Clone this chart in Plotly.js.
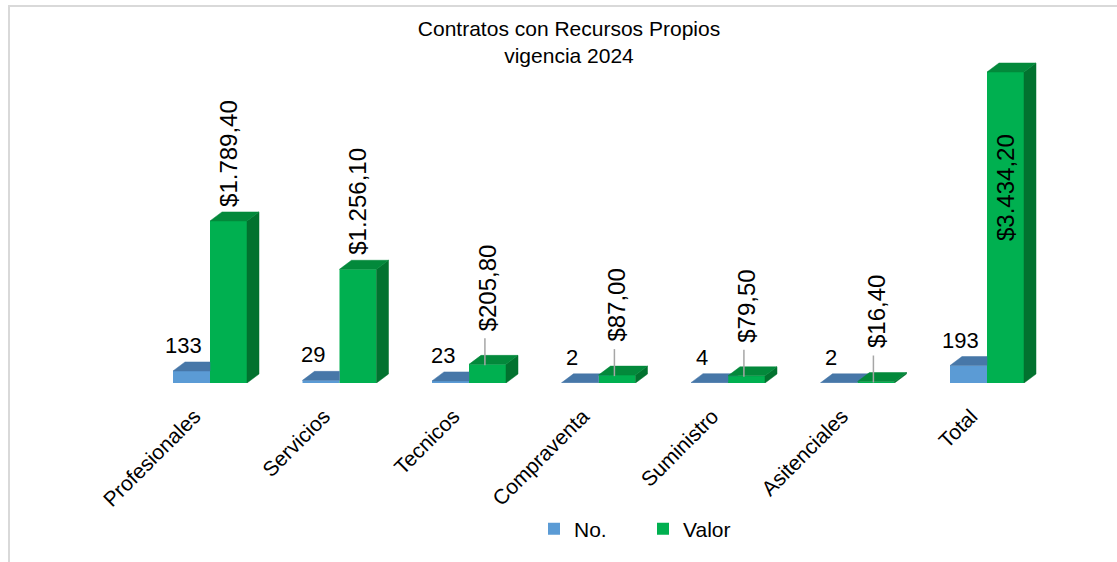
<!DOCTYPE html>
<html>
<head>
<meta charset="utf-8">
<script src="https://cdn.plot.ly/plotly-3.0.1.min.js"></script>
<style>
  html, body { margin: 0; padding: 0; background: #fff; }
  #wrap { position: relative; width: 1117px; height: 562px; overflow: hidden; }
  #chart { position: absolute; left: 0; top: 0; width: 1117px; height: 562px; }
  #frame { position: absolute; left: 8px; top: 5px; right: 0; bottom: 0;
           border-top: 2px solid #D9D9D9; border-left: 2px solid #D9D9D9;
           pointer-events: none; z-index: 10; }
</style>
</head>
<body>
<div id="wrap"><div id="chart"></div><div id="frame"></div></div>
<script>
// ---- data ----
const categories = ['Profesionales', 'Servicios', 'Tecnicos', 'Compraventa', 'Suministro', 'Asitenciales', 'Total'];
const noValues = [133, 29, 23, 2, 4, 2, 193];
const valorValues = [1789.4, 1256.1, 205.8, 87.0, 79.5, 16.4, 3434.2];
const noLabels = ['133', '29', '23', '2', '4', '2', '193'];
const valorLabels = ['$1.789,40', '$1.256,10', '$205,80', '$87,00', '$79,50', '$16,40', '$3.434,20'];
const seriesNames = ['No.', 'Valor'];
const chartTitle = 'Contratos con Recursos Propios<br>vigencia 2024';

// ---- geometry / style ----
const W = 1117, H = 562;
const PX_CAT = 129.5;            // px per category
const ML = 110, MR = 57, MT = 60, MB = 179;
const plotW = W - ML - MR, plotH = H - MT - MB;
const xmin = -(210 - ML) / PX_CAT;
const xmax = xmin + plotW / PX_CAT;
const UNITS_PER_PX = Math.max(...valorValues) / 311;
const ymax = plotH * UNITS_PER_PX;
const bw = 37 / PX_CAT;           // bar width in x units
const ddx = 12 / PX_CAT;          // depth offset x
const ddy = 9 * UNITS_PER_PX;     // depth offset y
const s = ddy / ddx;

const FONT = 'Arial, "Liberation Sans", sans-serif';
const blueFront = '#5B9BD5', blueTop = '#4777A8';
const greenFront = '#00B050', greenTop = '#03893B', greenSide = '#02722F';

const idx = categories.map((c, i) => i);
const xBlue = idx.map(i => i - bw / 2);
const xGreen = idx.map(i => i + bw / 2);

const traces = [];
traces.push({
  type: 'bar', name: seriesNames[0], x: xBlue, y: noValues, width: bw,
  marker: { color: blueFront, line: { width: 0 } }, hoverinfo: 'skip'
});
traces.push({
  type: 'bar', name: seriesNames[1], x: xGreen, y: valorValues, width: bw,
  marker: { color: greenFront, line: { width: 0 } }, hoverinfo: 'skip'
});

function poly(xs, ys, color) {
  traces.push({
    type: 'scatter', mode: 'lines', x: xs.concat([xs[0]]), y: ys.concat([ys[0]]),
    fill: 'toself', fillcolor: color, line: { color: color, width: 0.5 },
    showlegend: false, hoverinfo: 'skip'
  });
}

idx.forEach(i => {
  const vb = noValues[i], vg = valorValues[i];
  const x0 = i - bw, x1 = i, x2 = i + bw;
  // blue top face (visible part only)
  if (vb + ddy <= vg) {
    poly([x0, x0 + ddx, x1, x1], [vb, vb + ddy, vb + ddy, vb], blueTop);
  } else {
    poly([x0, x0 + ddx, x1 + ddx, x1 + (vg - vb) / s, x1, x1],
         [vb, vb + ddy, vb + ddy, vg, vg, vb], blueTop);
  }
  // green side face
  poly([x2, x2 + ddx, x2 + ddx, x2], [0, ddy, vg + ddy, vg], greenSide);
  // green top face
  poly([x1, x1 + ddx, x2 + ddx, x2], [vg, vg + ddy, vg + ddy, vg], greenTop);
});

const annotations = [];
const shapes = [];
const vmax = Math.max(...valorValues);
const labelFont = { family: FONT, size: 24, color: '#000' };
idx.forEach(i => {
  annotations.push({
    xref: 'x', yref: 'y', x: xBlue[i], y: noValues[i] + ddy,
    text: noLabels[i], showarrow: false, xanchor: 'center', yanchor: 'bottom',
    xshift: -8, yshift: 2, font: { family: FONT, size: 22, color: '#000' }
  });
  const vg = valorValues[i];
  if (vg === vmax) {
    annotations.push({
      xref: 'x', yref: 'y', x: xGreen[i], y: vg, text: valorLabels[i],
      showarrow: false, textangle: -90, xanchor: 'center', yanchor: 'top',
      yshift: -60, font: labelFont
    });
  } else if (vg >= 300) {
    annotations.push({
      xref: 'x', yref: 'y', x: xGreen[i], y: vg + ddy, text: valorLabels[i],
      showarrow: false, textangle: -90, xanchor: 'center', yanchor: 'bottom',
      yshift: 3, font: labelFont
    });
  } else {
    annotations.push({
      xref: 'x', yref: 'y', x: xGreen[i], y: vg, text: valorLabels[i],
      showarrow: false, textangle: -90, xanchor: 'center', yanchor: 'bottom',
      yshift: 31, font: labelFont
    });
    shapes.push({
      type: 'line', xref: 'x', yref: 'y', ysizemode: 'pixel', yanchor: vg,
      x0: xGreen[i] - 0.02, x1: xGreen[i] - 0.02, y0: -1, y1: 26,
      line: { color: '#A6A6A6', width: 1.5 }
    });
  }
});

const layout = {
  width: W, height: H,
  margin: { l: ML, r: MR, t: MT, b: MB, pad: 0 },
  paper_bgcolor: '#fff', plot_bgcolor: 'rgba(0,0,0,0)',
  showlegend: true,
  barmode: 'overlay',
  title: {
    text: chartTitle, x: 569 / W, xref: 'container', xanchor: 'center',
    y: 1 - 36 / H, yref: 'container', yanchor: 'top',
    font: { family: FONT, size: 21, color: '#000' }
  },
  xaxis: {
    range: [xmin, xmax], showgrid: false, zeroline: false, showline: false,
    tickmode: 'array', tickvals: idx.map(i => i - 0.12), ticktext: categories,
    tickangle: -45, ticks: '', ticklabelstandoff: 16,
    tickfont: { family: FONT, size: 21, color: '#000' }
  },
  yaxis: {
    range: [0, ymax], visible: false, showgrid: false, zeroline: false
  },
  legend: {
    orientation: 'h', xref: 'container', yref: 'container',
    x: 534 / W, xanchor: 'left', y: 1 - 529 / H, yanchor: 'middle',
    font: { family: FONT, size: 21, color: '#000' },
    entrywidth: 64, entrywidthmode: 'pixels'
  },
  shapes: shapes,
  annotations: annotations
};

Plotly.newPlot('chart', traces, layout, { displayModeBar: false, staticPlot: true });
</script>
</body>
</html>
